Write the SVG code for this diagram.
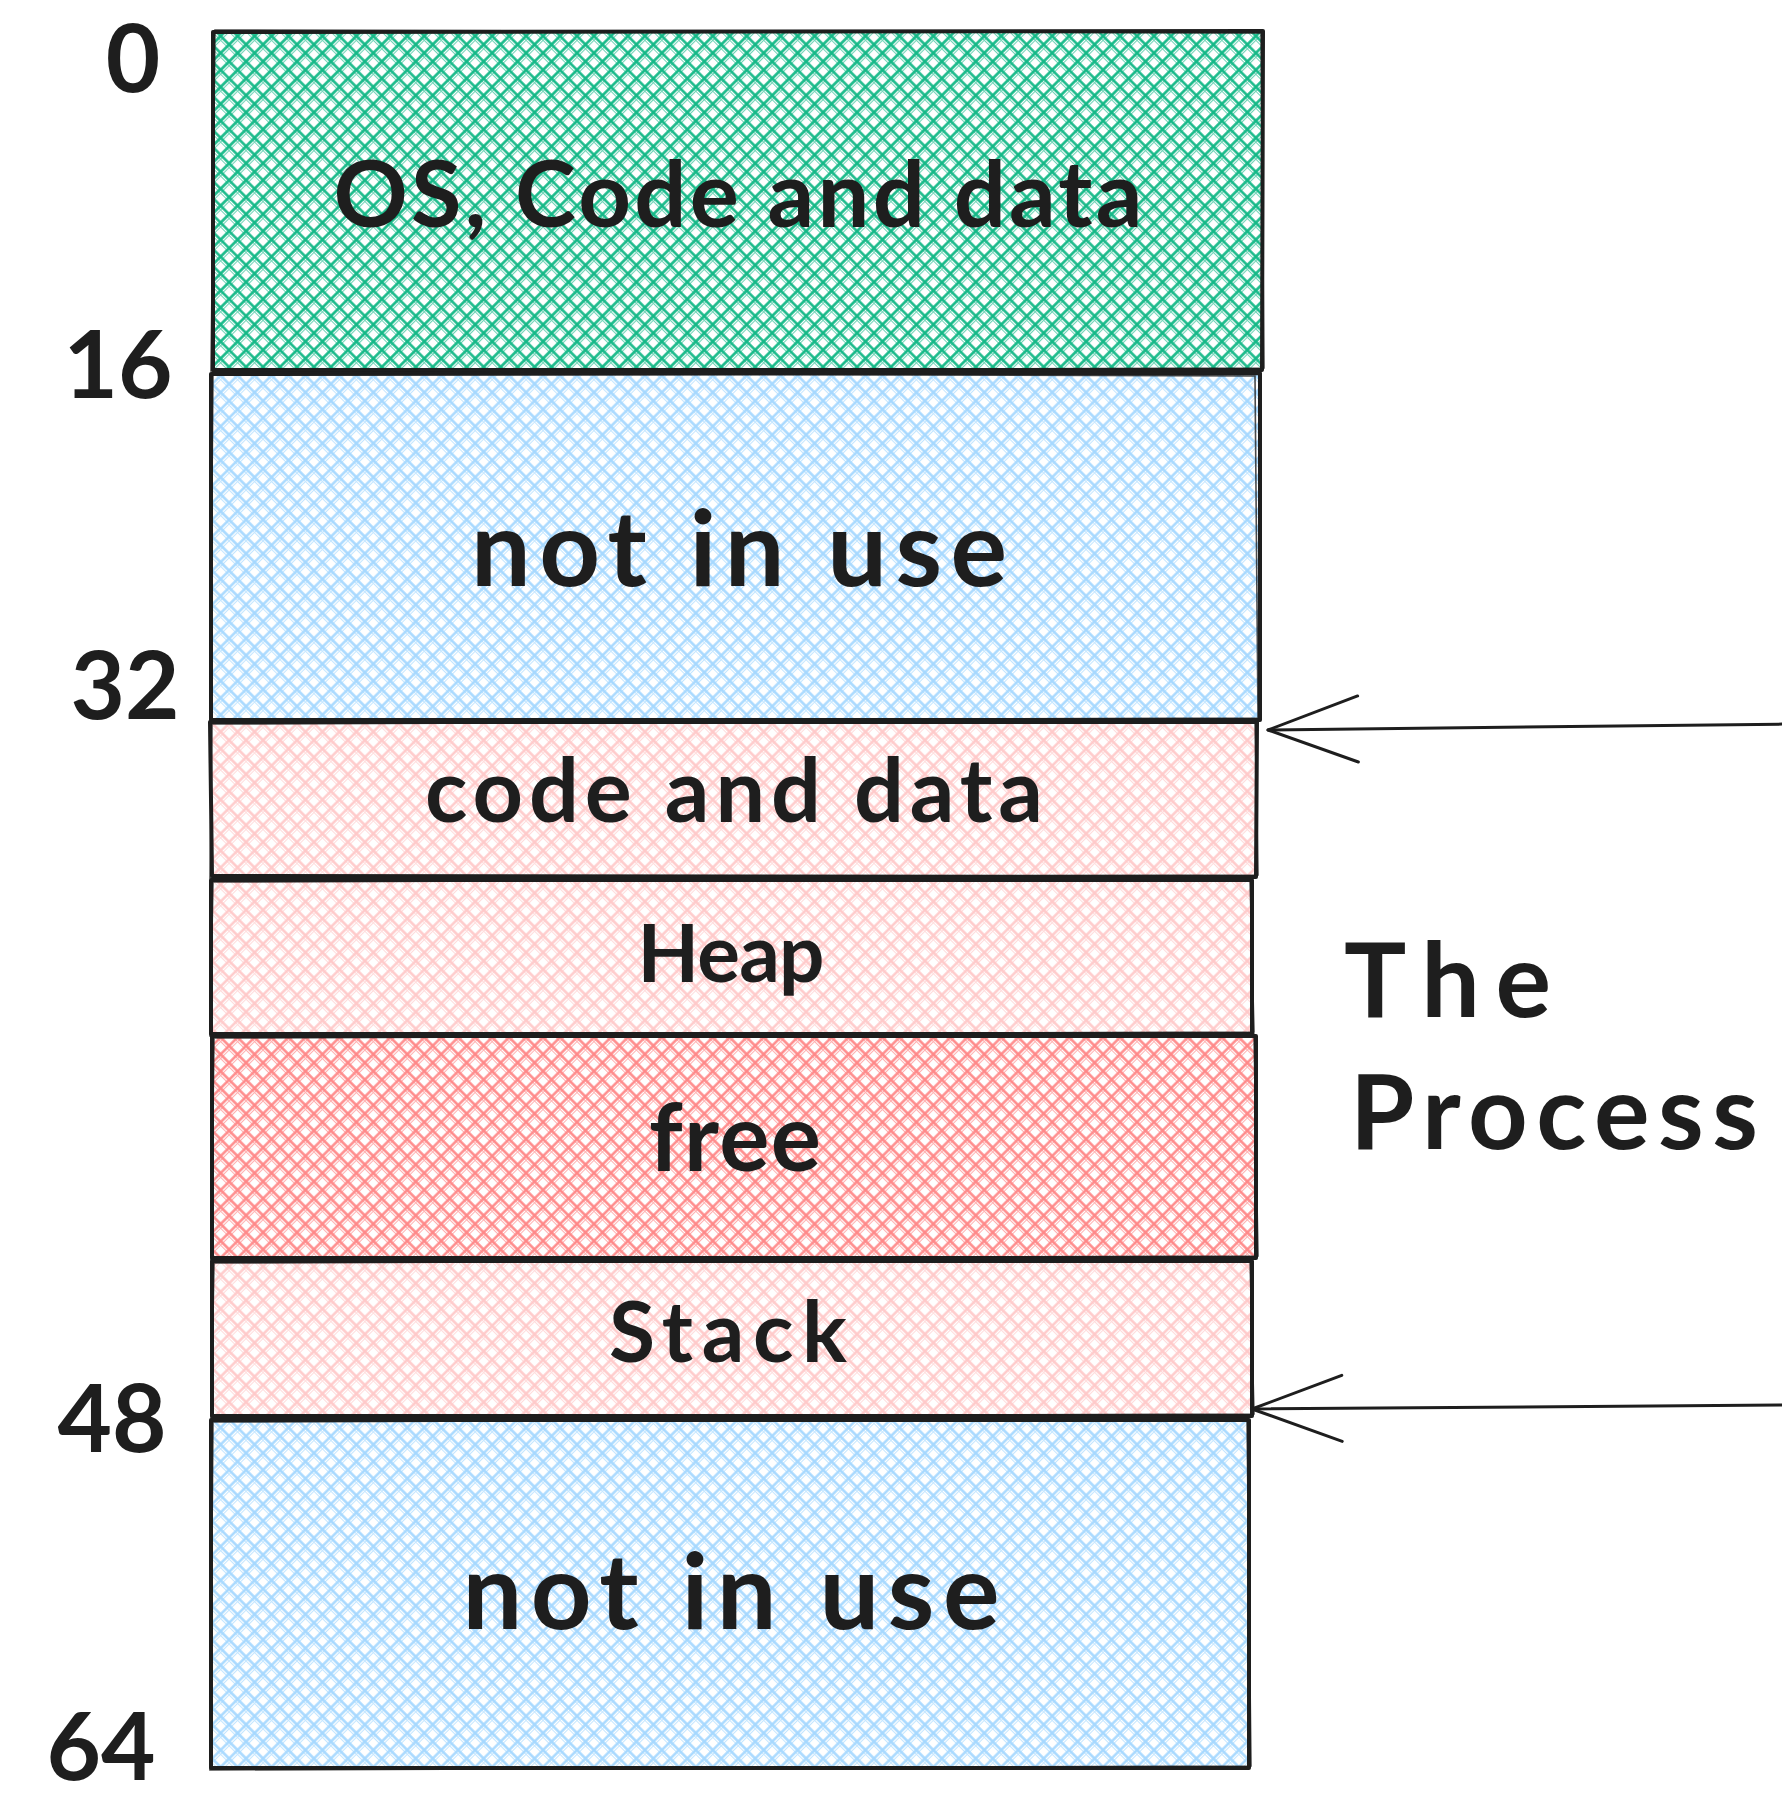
<svg xmlns="http://www.w3.org/2000/svg" width="1782" height="1802" viewBox="0 0 1782 1802">
  <style>
    .box { stroke: #1e1e1e; stroke-width: 4; stroke-linejoin: round; stroke-linecap: round; }
    .box2 { fill: none; stroke: #1e1e1e; stroke-width: 1.6; opacity: 0.8; }
    .lbl { font-family: Lato, "Noto Sans", sans-serif; font-weight: 700; fill: #1e1e1e; text-anchor: middle; }
    .num { font-family: Lato, "Noto Sans", sans-serif; font-weight: 700; fill: #1e1e1e; text-anchor: middle; font-size: 94px; }
    .side { font-family: Lato, "Noto Sans", sans-serif; font-weight: 700; fill: #1e1e1e; font-size: 104px; }
    .conn { fill: none; stroke: #1e1e1e; stroke-width: 3; stroke-linecap: round; }
  </style>
  <defs>
    <pattern id="hatch-green" width="12" height="12" patternUnits="userSpaceOnUse" patternTransform="rotate(45)">
      <path d="M0 1.5H12M1.5 0V12" stroke="#12b886" stroke-width="2.6"/>
      <path d="M0 4.5H12M4.5 0V12" stroke="#12b886" stroke-width="1.1" opacity="0.6"/>
    </pattern>
    <pattern id="hatch-blue" width="12" height="12" patternUnits="userSpaceOnUse" patternTransform="rotate(45)">
      <path d="M0 1.5H12M1.5 0V12" stroke="#a5d8ff" stroke-width="2.4"/>
      <path d="M0 4.5H12M4.5 0V12" stroke="#a5d8ff" stroke-width="1" opacity="0.65"/>
    </pattern>
    <pattern id="hatch-pink" width="12" height="12" patternUnits="userSpaceOnUse" patternTransform="rotate(45)">
      <path d="M0 1.5H12M1.5 0V12" stroke="#ffc9c9" stroke-width="2.4"/>
      <path d="M0 4.5H12M4.5 0V12" stroke="#ffc9c9" stroke-width="1" opacity="0.65"/>
    </pattern>
    <pattern id="hatch-red" width="12" height="12" patternUnits="userSpaceOnUse" patternTransform="rotate(45)">
      <path d="M0 1.5H12M1.5 0V12" stroke="#ff8787" stroke-width="2.4"/>
      <path d="M0 4.5H12M4.5 0V12" stroke="#ff8787" stroke-width="1" opacity="0.65"/>
    </pattern>
    <marker id="head" markerUnits="userSpaceOnUse" markerWidth="110" markerHeight="90" viewBox="-100 -45 110 90" refX="0" refY="0" orient="auto" overflow="visible">
      <path d="M-90 -33L0 0L-90 33" fill="none" stroke="#1e1e1e" stroke-width="3" stroke-linecap="round" stroke-linejoin="round"/>
    </marker>
  </defs>

  <rect width="1782" height="1802" fill="#ffffff"/>

  <!-- memory segments, top (address 0) to bottom (address 64) -->
  <g id="os-code-data">
    <path class="box" fill="url(#hatch-green)" d="M213 32L1263 31L1262 370L213 370Z"/>
    <path class="box2" d="M215 30L1261 33L1264 368L211 371Z"/>
    <text class="lbl" x="738" y="227" font-size="92" textLength="809">OS, Code and data</text>
  </g>

  <g id="not-in-use-1">
    <path class="box" fill="url(#hatch-blue)" d="M211 374L1260 373L1260 720L211 720Z"/>
    <path class="box2" d="M213 372L1255 376L1258 718L210 721Z"/>
    <text class="lbl" x="739" y="586" font-size="106" textLength="536">not in use</text>
  </g>

  <g id="code-and-data">
    <path class="box" fill="url(#hatch-pink)" d="M210 722L1257 722L1256 877L212 876Z"/>
    <path class="box2" d="M212 724L1255 720L1258 875L210 878Z"/>
    <text class="lbl" x="734" y="822" font-size="88" textLength="618">code and data</text>
  </g>

  <g id="heap">
    <path class="box" fill="url(#hatch-pink)" d="M211 880L1252 880L1252 1034L211 1034Z"/>
    <path class="box2" d="M213 882L1250 878L1254 1032L210 1036Z"/>
    <text class="lbl" x="731" y="982" font-size="80" textLength="187">Heap</text>
  </g>

  <g id="free">
    <path class="box" fill="url(#hatch-red)" d="M212 1036L1256 1036L1256 1258L212 1258Z"/>
    <path class="box2" d="M214 1038L1254 1034L1258 1256L211 1260Z"/>
    <text class="lbl" x="735" y="1171" font-size="94" textLength="172">free</text>
  </g>

  <g id="stack">
    <path class="box" fill="url(#hatch-pink)" d="M212 1261L1252 1261L1252 1416L212 1416Z"/>
    <path class="box2" d="M214 1263L1250 1259L1254 1414L211 1418Z"/>
    <text class="lbl" x="728" y="1362" font-size="84" textLength="238">Stack</text>
  </g>

  <g id="not-in-use-2">
    <path class="box" fill="url(#hatch-blue)" d="M211 1420L1249 1420L1249 1768L211 1768Z"/>
    <path class="box2" d="M213 1422L1247 1418L1251 1766L210 1770Z"/>
    <text class="lbl" x="731" y="1629" font-size="106" textLength="537">not in use</text>
  </g>

  <!-- address marks -->
  <g id="addresses">
    <text class="num" x="133" y="92" font-size="88">0</text>
    <text class="num" x="118" y="398">16</text>
    <text class="num" x="125" y="719" font-size="104">32</text>
    <text class="num" x="112" y="1452" font-size="104">48</text>
    <text class="num" x="101" y="1780" font-size="88">64</text>
  </g>

  <g id="the-process">
    <text class="side" x="1344" y="1017" textLength="207">The</text>
    <text class="side" x="1350" y="1149" textLength="408">Process</text>
  </g>

  <!-- process bounds pointers -->
  <g id="connectors">
    <path class="conn" d="M1792 724L1268 730" marker-end="url(#head)"/>
    <path class="conn" d="M1792 1405L1252 1409" marker-end="url(#head)"/>
  </g>
</svg>
